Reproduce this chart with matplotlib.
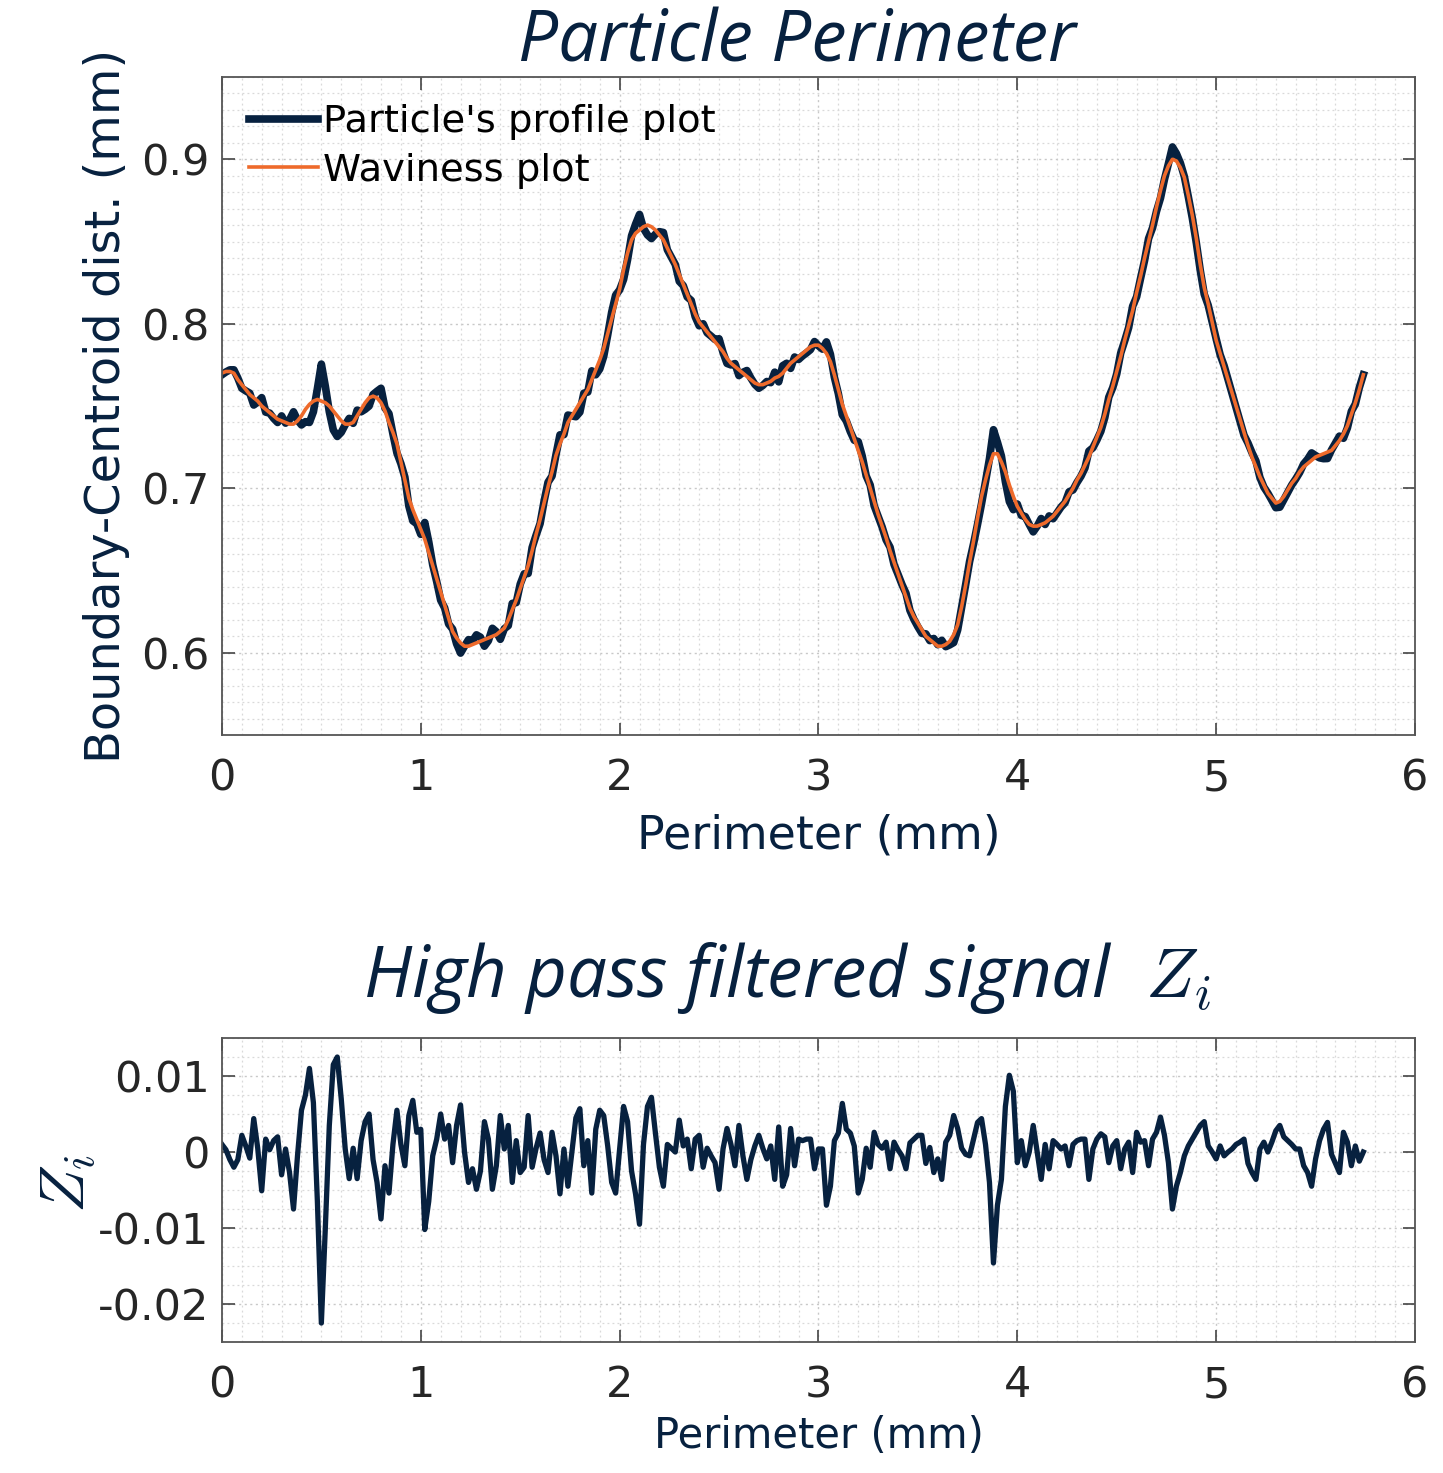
import numpy as np
import matplotlib
matplotlib.use("Agg")
import matplotlib.pyplot as plt
from matplotlib.ticker import MultipleLocator

# perimeter sample spacing (mm) and data
step = 0.02

# waviness (low pass) curve, mm
waviness = [
    0.770, 0.771, 0.771, 0.770, 0.766, 0.763, 0.760, 0.757, 0.755, 0.753,
    0.750, 0.748, 0.746, 0.744, 0.742, 0.741, 0.740, 0.739, 0.739, 0.741,
    0.744, 0.748, 0.751, 0.753, 0.754, 0.753, 0.752, 0.750, 0.747, 0.744,
    0.741, 0.739, 0.739, 0.740, 0.744, 0.748, 0.752, 0.755, 0.756, 0.755,
    0.752, 0.747, 0.740, 0.734, 0.727, 0.716, 0.705, 0.694, 0.687, 0.681,
    0.675, 0.669, 0.661, 0.653, 0.645, 0.637, 0.629, 0.621, 0.613, 0.609,
    0.606, 0.604, 0.604, 0.605, 0.606, 0.607, 0.608, 0.609, 0.610, 0.611,
    0.613, 0.615, 0.620, 0.626, 0.632, 0.639, 0.646, 0.653, 0.662, 0.672,
    0.681, 0.691, 0.701, 0.710, 0.720, 0.727, 0.733, 0.740, 0.744, 0.748,
    0.752, 0.756, 0.760, 0.766, 0.772, 0.778, 0.785, 0.794, 0.803, 0.812,
    0.821, 0.833, 0.843, 0.851, 0.855, 0.857, 0.859, 0.860, 0.859, 0.857,
    0.854, 0.851, 0.846, 0.841, 0.836, 0.830, 0.824, 0.818, 0.812, 0.806,
    0.801, 0.798, 0.795, 0.792, 0.789, 0.786, 0.783, 0.779, 0.776, 0.774,
    0.772, 0.770, 0.768, 0.766, 0.764, 0.763, 0.763, 0.764, 0.765, 0.767,
    0.768, 0.770, 0.773, 0.776, 0.778, 0.780, 0.782, 0.784, 0.786, 0.787,
    0.787, 0.785, 0.782, 0.777, 0.769, 0.760, 0.751, 0.744, 0.737, 0.730,
    0.723, 0.716, 0.708, 0.700, 0.692, 0.684, 0.677, 0.670, 0.662, 0.655,
    0.648, 0.641, 0.634, 0.627, 0.622, 0.618, 0.614, 0.610, 0.608, 0.606,
    0.604, 0.604, 0.605, 0.607, 0.611, 0.617, 0.628, 0.641, 0.655, 0.668,
    0.682, 0.695, 0.705, 0.714, 0.721, 0.721, 0.716, 0.710, 0.702, 0.695,
    0.689, 0.685, 0.681, 0.678, 0.677, 0.677, 0.678, 0.679, 0.681, 0.683,
    0.686, 0.689, 0.692, 0.696, 0.700, 0.705, 0.709, 0.714, 0.719, 0.725,
    0.731, 0.737, 0.745, 0.754, 0.762, 0.771, 0.780, 0.790, 0.799, 0.808,
    0.819, 0.829, 0.840, 0.850, 0.860, 0.871, 0.881, 0.890, 0.896, 0.900,
    0.899, 0.895, 0.889, 0.878, 0.866, 0.852, 0.836, 0.822, 0.812, 0.801,
    0.790, 0.782, 0.774, 0.766, 0.758, 0.750, 0.742, 0.734, 0.726, 0.719,
    0.713, 0.707, 0.702, 0.697, 0.694, 0.691, 0.692, 0.695, 0.699, 0.703,
    0.706, 0.710, 0.713, 0.715, 0.717, 0.719, 0.720, 0.721, 0.722, 0.723,
    0.726, 0.729, 0.733, 0.738, 0.745, 0.752, 0.760, 0.769,
]

# high pass filtered signal Z_i, in units of 1e-3 mm
zi_milli = [
    1.0, 0.3, -1.0, -2.0, -1.0, 2.2, 0.8, -0.8, 4.4, 0.5,
    -5.1, 1.7, 0.3, 1.5, 2.0, -3.0, 0.4, -2.7, -7.5, -0.5,
    5.5, 7.5, 11.0, 6.5, -6.5, -22.5, -10.0, 3.5, 11.5, 12.5,
    7.0, 0.4, -3.5, 0.5, -3.5, 1.5, 4.0, 5.0, -1.0, -4.0,
    -8.8, -1.8, -5.4, 1.0, 5.5, 1.0, -1.8, 4.8, 6.8, 2.6,
    3.0, -10.2, -6.5, -0.5, 1.7, 5.0, 1.7, 3.5, -1.4, 3.5,
    6.2, 0.0, -4.0, -2.2, -4.9, -2.5, 4.0, 1.7, -4.9, -1.8,
    4.8, 0.4, 3.5, -4.0, 1.5, -2.7, -2.0, 4.8, -2.0, 0.5,
    2.5, -1.0, -2.7, 2.6, -0.5, -5.5, 0.4, -4.5, 0.0, 4.5,
    5.7, -1.8, 1.5, -5.4, 3.0, 5.5, 4.8, 0.8, -4.0, -5.4,
    0.4, 6.0, 4.0, -2.5, -5.5, -9.5, 1.0, 6.0, 7.2, 2.5,
    -2.0, -4.5, 1.0, 0.5, 0.0, 4.2, 0.8, 1.7, -2.2, 1.7,
    2.2, -2.0, 0.5, -0.5, -1.4, -4.9, 0.4, 3.1, 1.0, -1.8,
    3.5, -0.5, -3.6, -1.0, 0.8, 2.2, 0.5, -0.9, 0.8, -3.6,
    3.3, -4.5, -3.0, 3.1, -1.8, 1.7, 1.5, 1.7, 1.7, -2.2,
    0.4, 0.4, -7.0, -4.5, 1.5, 2.5, 6.4, 3.0, 2.5, 0.8,
    -5.4, -3.6, 0.5, -2.0, 2.6, 1.0, 0.5, 1.3, -2.2, 1.3,
    0.3, -0.5, -2.2, 1.2, 1.7, 2.2, 2.2, -1.5, 0.6, -2.7,
    -0.9, -3.6, 1.3, 2.2, 4.8, 3.1, 0.5, -0.3, -0.5, 1.7,
    3.9, 4.4, 1.0, -4.0, -14.6, -7.0, -3.6, 6.0, 10.1, 8.0,
    -1.4, 1.5, -1.8, 0.0, 3.5, 0.0, -3.6, 1.0, -2.2, 1.5,
    1.0, 0.4, 0.8, -1.8, 1.0, 1.5, 1.7, 1.7, -3.6, 0.4,
    1.7, 2.4, 2.0, -1.4, 0.8, 1.5, -2.2, 0.4, 1.3, -2.7,
    2.6, 1.3, 1.5, -1.8, 1.7, 2.6, 4.6, 2.2, -1.4, -7.5,
    -4.5, -2.7, -0.5, 0.8, 1.7, 2.6, 3.5, 4.0, 0.8, 0.0,
    -0.9, 0.8, -0.5, 0.0, 0.4, 1.0, 1.3, 1.7, -1.5, -2.7,
    -3.6, 0.4, 1.3, 0.0, 1.3, 2.8, 3.5, 2.0, 1.5, 1.0,
    0.4, 0.4, -1.8, -2.7, -4.5, -0.9, 1.5, 3.0, 3.9, -0.3,
    -1.5, -2.7, 2.6, 1.3, -1.8, 0.8, -1.2, 0.0,
]

top_yticks = [0.6, 0.7, 0.8, 0.9]
bot_yticks = [-0.02, -0.01, 0.0, 0.01]
bot_yticklabels = ["-0.02", "-0.01", "0", "0.01"]
xticks = [0, 1, 2, 3, 4, 5, 6]

navy = "#07213f"
orange = "#ee6a2b"
tick_col = "#262626"

plt.rcParams["font.family"] = ["DejaVu Sans"]
plt.rcParams["mathtext.fontset"] = "cm"
plt.rcParams["axes.unicode_minus"] = False

perim = np.arange(len(waviness)) * step
wav = np.array(waviness)
zi = np.array(zi_milli) * 1e-3
profile = wav - zi   # the high pass part is waviness minus profile

fig = plt.figure(figsize=(14.43, 14.73), dpi=100)
ax1 = fig.add_axes([0.1538, 0.501, 0.8268, 0.4467])
ax2 = fig.add_axes([0.1538, 0.0889, 0.8268, 0.2064])


def style_axes(ax, ymin, ymax, yminor):
    ax.set_xlim(0, 6)
    ax.set_ylim(ymin, ymax)
    ax.set_xticks(xticks)
    ax.xaxis.set_minor_locator(MultipleLocator(0.1))
    ax.yaxis.set_minor_locator(MultipleLocator(yminor))
    ax.grid(which="major", color="#c8c8c8", linestyle=(0, (1.5, 2.5)), linewidth=1.0)
    ax.grid(which="minor", color="#d9d9d9", linestyle=(0, (1.5, 2.5)), linewidth=0.9)
    ax.set_axisbelow(True)
    ax.tick_params(which="major", direction="in", length=9, width=1.2,
                   top=True, right=True, colors="#444444",
                   labelcolor=tick_col, labelsize=31)
    ax.tick_params(axis="x", which="major", pad=16)
    ax.tick_params(axis="y", which="major", pad=9)
    ax.tick_params(which="minor", length=0)
    for s in ax.spines.values():
        s.set_color("#555555")
        s.set_linewidth(1.3)


# top panel
style_axes(ax1, 0.55, 0.95, 0.01)
ax1.set_yticks(top_yticks)
ax1.set_yticklabels(["0.6", "0.7", "0.8", "0.9"])
ax1.plot(perim, profile, color=navy, lw=5.5, label="Particle's profile plot")
ax1.plot(perim, wav, color=orange, lw=2.6, label="Waviness plot")
ax1.set_xlabel("Perimeter (mm)", fontsize=33, color=navy, labelpad=10)
ax1.set_ylabel("Boundary-Centroid dist. (mm)", fontsize=34.5, color=navy, labelpad=8)
leg = ax1.legend(loc="upper left", frameon=False, fontsize=27.7,
                 handlelength=1.8, handletextpad=0.12, labelspacing=0.33,
                 borderaxespad=0.3)
for t in leg.get_texts():
    t.set_color("black")

# bottom panel
style_axes(ax2, -0.025, 0.015, 0.0025)
ax2.set_yticks(bot_yticks)
ax2.set_yticklabels(bot_yticklabels)
ax2.plot(perim, zi, color=navy, lw=3.8)
ax2.set_xlabel("Perimeter (mm)", fontsize=30, color=navy, labelpad=6)
ax2.set_ylabel(r"$Z_i$", fontsize=46, color=navy)
ax2.yaxis.set_label_coords(-0.103, 0.52)

fig.text(0.552, 0.971, "Particle Perimeter", fontsize=51, style="italic",
         family="Open Sans", color=navy, ha="center", va="center")
fig.text(0.545, 0.336, r"High pass filtered signal  $Z_i$", fontsize=51,
         style="italic", family="Open Sans", color=navy, ha="center", va="center")

fig.savefig("out.png", dpi=100, facecolor="white")
